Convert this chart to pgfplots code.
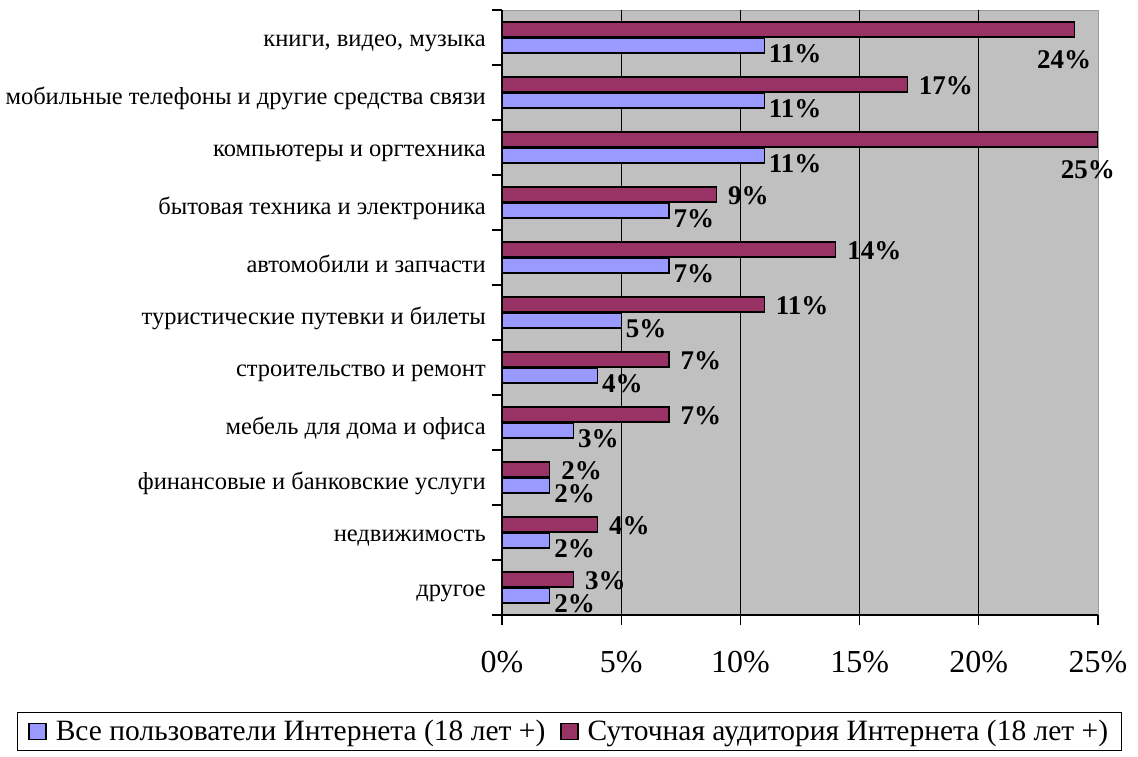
\documentclass[border=0pt]{standalone}
\usepackage{fontspec}
\setmainfont{Liberation Serif}
\usepackage{pgfplots}
\pgfplotsset{compat=1.18}
\definecolor{BarBlue}{HTML}{9999FF}
\definecolor{BarWine}{HTML}{993366}
\definecolor{PlotGray}{HTML}{C0C0C0}
\begin{document}
\begin{tikzpicture}
\begin{axis}[
  scale only axis,
  width=596pt, height=605pt,
  xmin=0, xmax=25, ymin=-0.5, ymax=10.5,
  axis x line*=bottom, axis y line*=left,
  axis line style={black, line width=1.3pt},
  axis background/.style={fill=PlotGray, draw=gray!80},
  tick align=outside,
  major tick length=10pt,
  tick style={black, line width=1.3pt},
  /pgf/number format/assume math mode=true,
  xtick={0,5,...,25},
  xticklabel={\pgfmathprintnumber{\tick}\%},
  xticklabel style={font=\fontsize{32}{36}\selectfont, inner sep=0pt, yshift=-26pt},
  extra x ticks={5,10,15,20},
  extra x tick style={grid=major, major tick length=0pt, xticklabel=\empty},
  major grid style={black, line width=1.3pt},
  ytick={-0.5,0.5,...,10.5},
  yticklabel=\empty,
  extra y ticks={0,1,2,3,4,5,6,7,8,9,10},
  extra y tick labels={другое, недвижимость, финансовые и банковские услуги,
    мебель для дома и офиса, строительство и ремонт, туристические путевки и билеты,
    автомобили и запчасти, бытовая техника и электроника, компьютеры и оргтехника,
    мобильные телефоны и другие средства связи, {книги, видео, музыка}},
  extra y tick style={major tick length=0pt,
    yticklabel style={font=\fontsize{24.5}{28}\selectfont, anchor=east, inner sep=0pt, xshift=-16pt, yshift=-6pt}},
  point meta=x,
  nodes near coords={\pgfmathprintnumber{\pgfplotspointmeta}\%},
  every node near coord/.append style={font=\bfseries\fontsize{27}{30}\selectfont, inner sep=0pt, black},
  legend columns=2,
  legend style={at={(axis description cs:-0.814,-0.160)}, anchor=north west,
    draw=black, line width=1.3pt, fill=white,
    font=\fontsize{29.5}{33}\selectfont, inner xsep=11pt, inner ysep=6pt,
    /tikz/every odd column/.append style={column sep=7pt},
    /tikz/every even column/.append style={column sep=13pt}},
  legend image code/.code={\draw[#1, line width=1.3pt] (0pt,-8pt) rectangle (17pt,8pt);},
]
% Все пользователи
\addplot[xbar, bar width=15pt, bar shift=-8pt, fill=BarBlue, draw=black, line width=1.3pt,
  every node near coord/.append style={anchor=west, xshift=4pt, yshift=-16pt}]
  coordinates {(2,0) (2,1) (2,2) (3,3) (4,4) (5,5) (7,6) (7,7) (11,8) (11,9) (11,10)};
% Суточная аудитория
\addplot[xbar, bar width=15pt, bar shift=8pt, fill=BarWine, draw=black, line width=1.3pt,
  every node near coord/.append style={anchor=west, xshift=11pt, yshift=7pt}]
  coordinates {(3,0) (4,1) (2,2) (7,3) (7,4) (11,5) (14,6) (9,7) (17,9)};
\addplot[xbar, bar width=15pt, bar shift=8pt, fill=BarWine, draw=black, line width=1.3pt, forget plot,
  every node near coord/.append style={anchor=north, xshift=-10pt, yshift=-12pt}]
  coordinates {(25,8) (24,10)};
\legend{Все пользователи Интернета (18 лет +), Суточная аудитория Интернета (18 лет +)}
\end{axis}
\pgfresetboundingbox
\path (current axis.south west) ++(-502pt,-141pt) rectangle ++(1138pt,756pt);
\end{tikzpicture}
\end{document}
